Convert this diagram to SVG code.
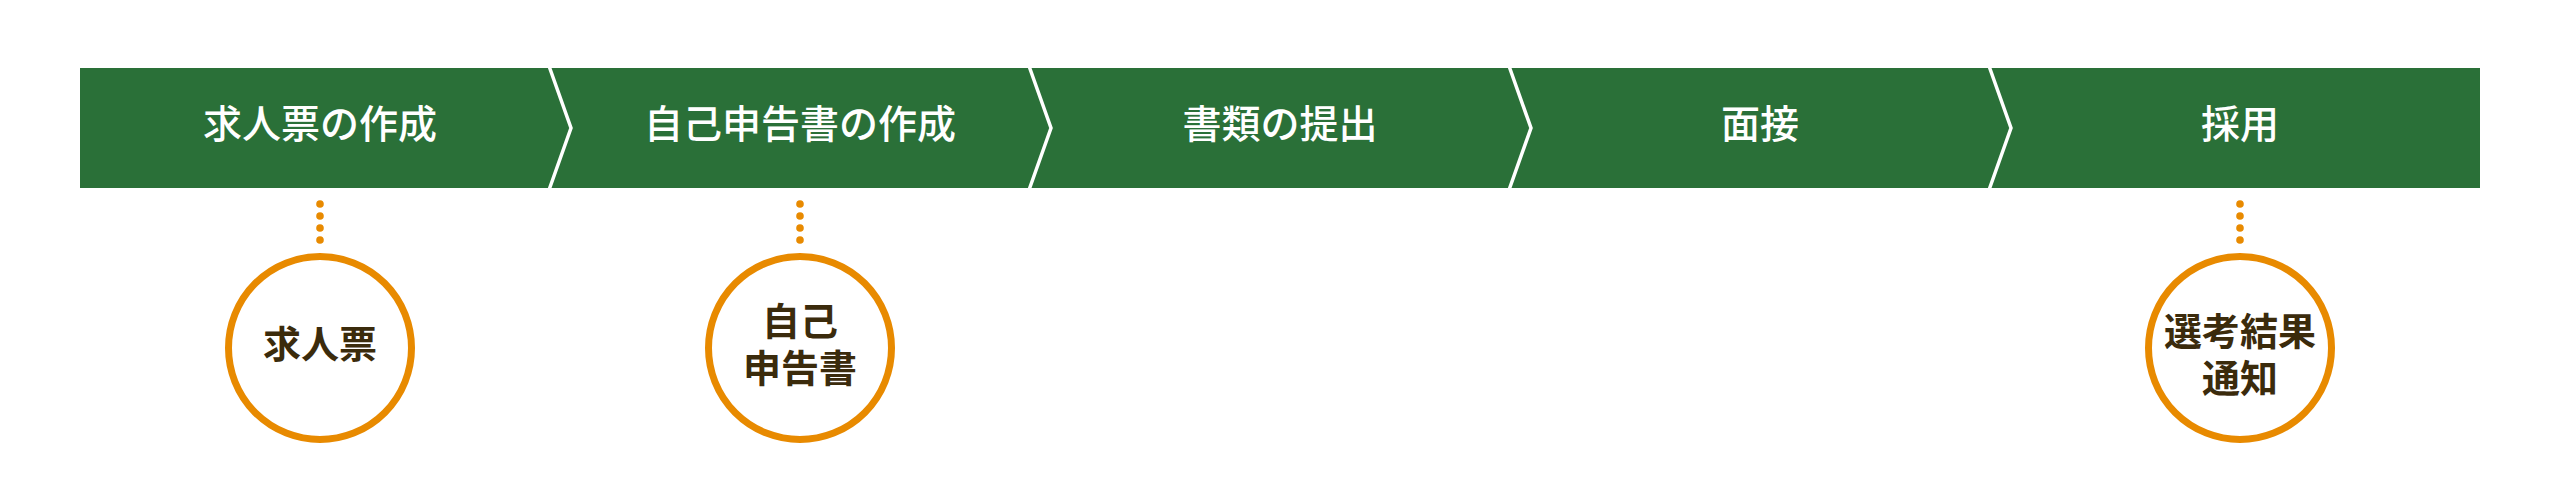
<svg xmlns="http://www.w3.org/2000/svg" width="2560" height="480" viewBox="0 0 2560 480">
<style>
.bar{fill:#2a7038}
.sep{fill:none;stroke:#ffffff;stroke-width:3.5;stroke-linejoin:miter}
.lbl{font-family:"Noto Sans CJK JP","Noto Sans CJK SC",sans-serif;font-size:39px;font-weight:500;fill:#ffffff;text-anchor:middle}
.ring{fill:#ffffff;stroke:#e88a00;stroke-width:7}
.ct{font-family:"Noto Sans CJK JP","Noto Sans CJK SC",sans-serif;font-size:38px;font-weight:700;fill:#3b2b0c;text-anchor:middle}
.dot{fill:#e88a00}
</style>
<rect width="2560" height="480" fill="#ffffff"/>
<g id="bar">
<rect class="bar" x="80" y="68" width="2400" height="120"/>
</g>
<g id="step1"><text class="lbl" x="320" y="138">求人票の作成</text></g>
<g id="step2"><text class="lbl" x="800" y="138">自己申告書の作成</text></g>
<g id="step3"><text class="lbl" x="1280" y="138">書類の提出</text></g>
<g id="step4"><text class="lbl" x="1760" y="138">面接</text></g>
<g id="step5"><text class="lbl" x="2240" y="138">採用</text></g>
<g id="connectors">
<path class="sep" d="M549,66 L571,128 L549,190"/>
<path class="sep" d="M1029,66 L1051,128 L1029,190"/>
<path class="sep" d="M1509,66 L1531,128 L1509,190"/>
<path class="sep" d="M1989,66 L2011,128 L1989,190"/>
<g class="dot">
<circle cx="320" cy="204" r="3.8"/><circle cx="320" cy="216" r="3.8"/><circle cx="320" cy="228" r="3.8"/><circle cx="320" cy="240" r="3.8"/>
<circle cx="800" cy="204" r="3.8"/><circle cx="800" cy="216" r="3.8"/><circle cx="800" cy="228" r="3.8"/><circle cx="800" cy="240" r="3.8"/>
<circle cx="2240" cy="204" r="3.8"/><circle cx="2240" cy="216" r="3.8"/><circle cx="2240" cy="228" r="3.8"/><circle cx="2240" cy="240" r="3.8"/>
</g>
</g>
<g id="doc1">
<circle class="ring" cx="320" cy="348" r="91.5"/>
<text class="ct" x="320" y="358">求人票</text>
</g>
<g id="doc2">
<circle class="ring" cx="800" cy="348" r="91.5"/>
<text class="ct"><tspan x="800" y="335">自己</tspan><tspan x="800" y="382">申告書</tspan></text>
</g>
<g id="doc3">
<circle class="ring" cx="2240" cy="348" r="91.5"/>
<text class="ct"><tspan x="2240" y="345">選考結果</tspan><tspan x="2240" y="392">通知</tspan></text>
</g>
</svg>
